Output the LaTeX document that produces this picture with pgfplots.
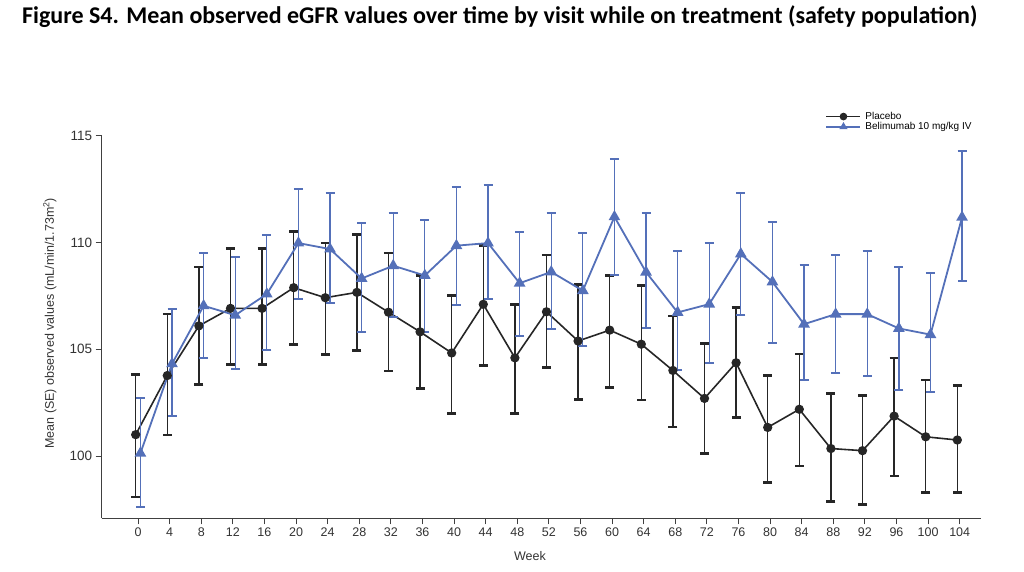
\documentclass[border=0pt]{standalone}
\usepackage{pgfplots}
\pgfplotsset{compat=1.18}
\usepackage{pgfplotstable}
\usepackage{fontspec}
\setmainfont{Liberation Sans}
\newfontfamily\titlefont{Carlito}

\definecolor{placebo}{RGB}{38,38,38}
\definecolor{beli}{RGB}{84,112,185}

% week, mean, lower (mean-SE), upper (mean+SE)
\pgfplotstableread{
week mean lo hi
0 101.00 98.07 103.82
4 103.77 100.99 106.65
8 106.10 103.35 108.85
12 106.92 104.29 109.73
16 106.92 104.29 109.73
20 107.89 105.24 110.52
24 107.42 104.76 109.98
28 107.67 104.95 110.39
32 106.74 103.98 109.51
36 105.82 103.16 108.46
40 104.83 101.99 107.51
44 107.11 104.25 109.86
48 104.60 101.99 107.11
52 106.76 104.15 109.43
56 105.39 102.66 108.03
60 105.90 103.22 108.47
64 105.24 102.63 107.99
68 104.01 101.36 106.56
72 102.70 100.11 105.27
76 104.37 101.81 106.97
80 101.34 98.77 103.77
84 102.19 99.54 104.78
88 100.35 97.88 102.94
92 100.25 97.72 102.85
96 101.87 99.07 104.60
100 100.90 98.29 103.57
104 100.75 98.29 103.30
}\placebotab

\pgfplotstableread{
week mean lo hi
0 100.13 97.59 102.72
4 104.32 101.87 106.90
8 107.04 104.60 109.51
12 106.60 104.07 109.32
16 107.59 104.98 110.36
20 109.98 107.37 112.53
24 109.70 107.15 112.34
28 108.32 105.83 110.93
32 108.92 106.52 111.37
36 108.46 105.83 111.05
40 109.86 107.08 112.61
44 109.98 107.36 112.72
48 108.10 105.63 110.50
52 108.63 105.94 111.37
56 107.75 105.14 110.44
60 111.21 108.50 113.92
64 108.62 106.02 111.37
68 106.73 104.01 109.59
72 107.12 104.35 109.97
76 109.47 106.60 112.31
80 108.16 105.30 110.98
84 106.18 103.58 108.96
88 106.65 103.88 109.43
92 106.65 103.74 109.59
96 105.98 103.10 108.85
100 105.69 102.99 108.57
104 111.19 108.22 114.31
}\belitab

\begin{document}
\begin{tikzpicture}
\path[use as bounding box] (0,0) rectangle (1024pt,572pt);
\node[anchor=west, inner sep=0pt] at (22pt,555pt)
  {\titlefont\bfseries\fontsize{24}{27}\selectfont Figure S4. Mean observed eGFR values over time by visit while on treatment (safety population)};
\begin{axis}[
    at={(101.7pt,53.7pt)},
    anchor=south west,
    scale only axis,
    width=879.3pt,
    height=382.3pt,
    xmin=-4.6, xmax=106.7,
    ymin=97.08, ymax=115,
    axis lines*=left,
    axis line style={line width=1pt, black!75},
    tick align=outside,
    tick pos=left,
    major tick length=6pt,
    tick style={line width=1pt, black!75},
    xtick={0,4,...,104},
    ytick={100,105,110,115},
    /pgf/number format/assume math mode=true,
    xticklabel style={font=\fontsize{12.5}{14}\selectfont, text=black!80},
    yticklabel style={font=\fontsize{13.5}{15}\selectfont, text=black!80},
    xlabel={Week},
    ylabel={Mean (SE) observed values (mL/min/1.73m\textsuperscript{2})},
    label style={font=\fontsize{12.5}{14}\selectfont, text=black!80},
    xlabel style={at={(axis description cs:0.487,-0.099)}, anchor=center},
    ylabel style={at={(axis description cs:-0.059,0.51)}, anchor=center},
    clip=false,
    legend style={draw=none, fill=none, at={(axis description cs:0.823,1.068)},
        anchor=north west, font=\fontsize{10}{11}\selectfont, row sep=-2.5pt,
        inner sep=0pt, nodes={inner xsep=4pt}},
    legend cell align=left,
    legend image code/.code={\draw[mark repeat=2,mark phase=2,#1,mark size=3pt] plot coordinates {(0pt,0pt) (17pt,0pt) (34pt,0pt)};},
]
\addplot[color=placebo, line width=1.6pt, mark=*, mark size=3.8pt,
    error bars/.cd, y dir=both, y explicit,
    error bar style={line width=1.3pt, placebo},
    error mark options={rotate=90, line width=2.6pt, mark size=4.5pt, placebo}]
  table[x expr=\thisrow{week}-0.3, y=mean,
        y error plus expr=\thisrow{hi}-\thisrow{mean},
        y error minus expr=\thisrow{mean}-\thisrow{lo}] {\placebotab};
\addlegendentry{Placebo}
\addplot[color=beli, line width=1.8pt, mark=triangle*, mark size=5pt,
    error bars/.cd, y dir=both, y explicit,
    error bar style={line width=1.3pt, beli},
    error mark options={rotate=90, line width=2pt, mark size=4.5pt, beli}]
  table[x expr=\thisrow{week}+0.3, y=mean,
        y error plus expr=\thisrow{hi}-\thisrow{mean},
        y error minus expr=\thisrow{mean}-\thisrow{lo}] {\belitab};
\addlegendentry{Belimumab 10 mg/kg IV}
\end{axis}
\end{tikzpicture}
\end{document}
